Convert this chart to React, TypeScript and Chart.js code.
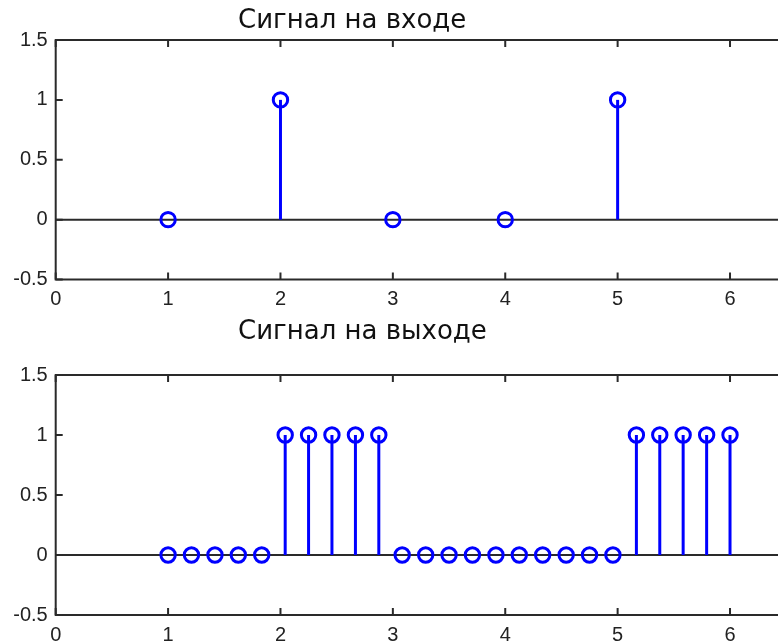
import React, { useEffect, useRef } from "react";
import { Chart, registerables } from "chart.js";

Chart.register(...registerables);

// Signal data: sample positions and amplitudes
const inputTitle = "Сигнал на входе";
const outputTitle = "Сигнал на выходе";

const inputX = [1, 2, 3, 4, 5];
const inputY = [0, 1, 0, 0, 1];

const outputX = [
  1.0, 1.208, 1.417, 1.625, 1.833, 2.042, 2.25, 2.458, 2.667, 2.875, 3.083, 3.292, 3.5,
  3.708, 3.917, 4.125, 4.333, 4.542, 4.75, 4.958, 5.167, 5.375, 5.583, 5.792, 6.0,
];
const outputY = [
  0, 0, 0, 0, 0, 1, 1, 1, 1, 1, 0, 0, 0, 0, 0, 0, 0, 0, 0, 0, 1, 1, 1, 1, 1,
];

const xTicks = [0, 1, 2, 3, 4, 5, 6, 7];
const yTicks = [-0.5, 0, 0.5, 1, 1.5];
const xRange = [0, 7];
const yRange = [-0.5, 1.5];

const STEM_COLOR = "#0000ff";
const AXIS_COLOR = "#2a2a2a";
const CANVAS_W = 860;

// Draws the zero baseline and stems under the markers, then the axes box with inward ticks.
const stemPlugin = {
  id: "stemAxes",
  beforeDatasetsDraw(chart: any) {
    const { ctx, chartArea: a, scales } = chart;
    const x = scales.x;
    const y = scales.y;
    const y0 = y.getPixelForValue(0);
    ctx.save();
    ctx.strokeStyle = AXIS_COLOR;
    ctx.lineWidth = 2;
    ctx.beginPath();
    ctx.moveTo(a.left, y0);
    ctx.lineTo(a.right, y0);
    ctx.stroke();

    ctx.strokeStyle = STEM_COLOR;
    ctx.lineWidth = 3;
    chart.data.datasets[0].data.forEach((p: any) => {
      if (p.y === 0) return;
      const px = x.getPixelForValue(p.x);
      ctx.beginPath();
      ctx.moveTo(px, y0);
      ctx.lineTo(px, y.getPixelForValue(p.y));
      ctx.stroke();
    });
    ctx.restore();
  },
  afterDraw(chart: any) {
    const { ctx, chartArea: a, scales } = chart;
    const x = scales.x;
    const y = scales.y;
    const len = 7;
    ctx.save();
    ctx.strokeStyle = AXIS_COLOR;
    ctx.lineWidth = 2;
    ctx.strokeRect(a.left, a.top, a.right - a.left, a.bottom - a.top);
    ctx.beginPath();
    xTicks.forEach((v) => {
      const px = x.getPixelForValue(v);
      ctx.moveTo(px, a.bottom);
      ctx.lineTo(px, a.bottom - len);
      ctx.moveTo(px, a.top);
      ctx.lineTo(px, a.top + len);
    });
    yTicks.forEach((v) => {
      const py = y.getPixelForValue(v);
      ctx.moveTo(a.left, py);
      ctx.lineTo(a.left + len, py);
      ctx.moveTo(a.right, py);
      ctx.lineTo(a.right - len, py);
    });
    ctx.stroke();
    ctx.restore();
  },
};

const tickFont = { family: "'Liberation Sans', Arial, sans-serif", size: 20 };

function StemPlot(props: {
  xs: number[];
  ys: number[];
  height: number;
  padTop: number;
  xAxisHeight: number;
}) {
  const ref = useRef<HTMLCanvasElement>(null);
  useEffect(() => {
    if (!ref.current) return;
    const chart = new Chart(ref.current, {
      type: "scatter",
      data: {
        datasets: [
          {
            data: props.xs.map((v, i) => ({ x: v, y: props.ys[i] })),
            showLine: false,
            pointStyle: "circle",
            pointRadius: 7.2,
            pointBorderWidth: 3,
            pointBorderColor: STEM_COLOR,
            pointBackgroundColor: "rgba(0,0,0,0)",
          },
        ],
      },
      options: {
        responsive: false,
        animation: false,
        layout: { padding: { top: props.padTop, right: CANVAS_W - 842.4, left: 0, bottom: 0 } },
        plugins: { legend: { display: false }, tooltip: { enabled: false }, title: { display: false } },
        events: [],
        scales: {
          x: {
            type: "linear",
            min: xRange[0],
            max: xRange[1],
            grid: { display: false, drawTicks: false },
            border: { display: false },
            afterBuildTicks: (s: any) => {
              s.ticks = xTicks.map((v) => ({ value: v }));
            },
            afterFit: (s: any) => {
              s.height = props.xAxisHeight;
            },
            ticks: {
              font: tickFont,
              color: "#222",
              padding: 8,
              maxRotation: 0,
              autoSkip: false,
              callback: (v: any) => String(v),
            },
          },
          y: {
            type: "linear",
            min: yRange[0],
            max: yRange[1],
            grid: { display: false, drawTicks: false },
            border: { display: false },
            afterBuildTicks: (s: any) => {
              s.ticks = yTicks.map((v) => ({ value: v }));
            },
            afterFit: (s: any) => {
              s.width = 55.7;
            },
            ticks: {
              font: tickFont,
              color: "#222",
              padding: 8,
              autoSkip: false,
              callback: (v: any) => String(v),
            },
          },
        },
      },
      plugins: [stemPlugin],
    } as any);
    return () => chart.destroy();
  }, []);
  return (
    <canvas
      ref={ref}
      width={CANVAS_W}
      height={props.height}
      style={{ display: "block", width: CANVAS_W, height: props.height }}
    />
  );
}

const titleStyle: React.CSSProperties = {
  position: "absolute",
  left: 238,
  fontFamily: "'DejaVu Sans', Verdana, sans-serif",
  fontSize: 26,
  lineHeight: "30px",
  color: "#111",
  whiteSpace: "nowrap",
};

export default function App() {
  return (
    <div
      style={{
        position: "fixed",
        left: 0,
        top: 0,
        width: 778,
        height: 642,
        overflow: "hidden",
        background: "#fff",
      }}
    >
      <div style={{ position: "absolute", left: 0, top: 0 }}>
        <StemPlot xs={inputX} ys={inputY} height={310} padTop={40} xAxisHeight={30.5} />
      </div>
      <div style={{ position: "absolute", left: 0, top: 310 }}>
        <StemPlot xs={outputX} ys={outputY} height={332} padTop={65} xAxisHeight={27} />
      </div>
      <div style={{ ...titleStyle, top: 4 }}>{inputTitle}</div>
      <div style={{ ...titleStyle, top: 315 }}>{outputTitle}</div>
    </div>
  );
}
